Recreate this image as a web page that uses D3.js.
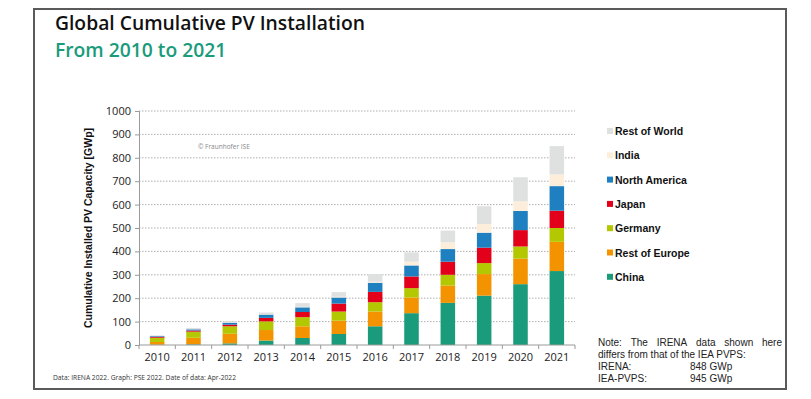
<!DOCTYPE html>
<html>
<head>
<meta charset="utf-8">
<script src="https://cdn.jsdelivr.net/npm/d3@7"></script>
<style>
  body { margin: 0; background: #fff; }
</style>
</head>
<body>
<svg id="chart" width="811" height="399" font-family="'Open Sans', sans-serif"></svg>
<script>
// years along the x axis
const years = ["2010", "2011", "2012", "2013", "2014", "2015", "2016", "2017", "2018", "2019", "2020", "2021"];

// installed capacity per region, GWp (segment heights, bottom to top)
const china = [1, 3, 7, 19, 30, 47, 80, 136, 180, 211, 260, 316];
const restOfEurope = [12, 28, 41, 45, 50, 57, 63, 67, 74, 92, 109, 125];
const germany = [18, 26, 32, 37, 39, 39, 40, 40, 46, 47, 52, 59];
const japan = [4, 5, 7, 15, 22, 34, 44, 50, 56, 66, 70, 74];
const northAmerica = [3, 5, 8, 14, 20, 26, 39, 47, 54, 64, 82, 105];
const india = [0, 1, 1, 2, 2, 3, 4, 16, 29, 37, 41, 50];
const restOfWorld = [3, 5, 5, 7, 16, 20, 33, 40, 50, 76, 103, 121];

const seriesNames = ["China", "Rest of Europe", "Germany", "Japan", "North America", "India", "Rest of World"];
const seriesColors = ["#1a9b7b", "#f39300", "#b3c800", "#e3001b", "#1f80c1", "#fdeedb", "#dfe0e0"];
const yTicks = [0, 100, 200, 300, 400, 500, 600, 700, 800, 900, 1000];

const svg = d3.select("#chart");
const arial = "'Liberation Sans', Arial, sans-serif";

// outer frame
svg.append("rect")
  .attr("x", 34).attr("y", 9)
  .attr("width", 752).attr("height", 380)
  .attr("fill", "none")
  .attr("stroke", "#5a5a5a")
  .attr("stroke-width", 2);

// titles
svg.append("text")
  .attr("x", 55).attr("y", 29.5)
  .attr("font-size", "19.3px")
  .attr("font-weight", 600)
  .attr("fill", "#111")
  .text("Global Cumulative PV Installation");

svg.append("text")
  .attr("x", 55).attr("y", 57)
  .attr("font-size", "19.3px")
  .attr("font-weight", 600)
  .attr("fill", "#1a9b7b")
  .text("From 2010 to 2021");

// build table for stacking
const table = years.map((yr, i) => ({
  year: yr,
  "China": china[i],
  "Rest of Europe": restOfEurope[i],
  "Germany": germany[i],
  "Japan": japan[i],
  "North America": northAmerica[i],
  "India": india[i],
  "Rest of World": restOfWorld[i]
}));

const stacked = d3.stack().keys(seriesNames)(table);

const plotLeft = 139, plotRight = 575, plotTop = 111, plotBottom = 345;

const x = d3.scaleBand().domain(years).range([plotLeft, plotRight]).paddingInner(0.6).paddingOuter(0.3);
const xEdge = d3.scaleLinear().domain([0, years.length]).range([plotLeft, plotRight]); // category boundaries
const y = d3.scaleLinear().domain([0, 1000]).range([plotBottom, plotTop]);

// dotted grid lines
svg.append("g")
  .selectAll("line")
  .data(yTicks.filter(d => d > 0))
  .join("line")
  .attr("x1", plotLeft).attr("x2", plotRight)
  .attr("y1", d => y(d)).attr("y2", d => y(d))
  .attr("stroke", "#9a9a9a")
  .attr("stroke-width", 0.8)
  .attr("stroke-dasharray", "1.5,1.5");

// y axis
const yAxis = svg.append("g")
  .attr("transform", "translate(" + plotLeft + ",0)")
  .call(d3.axisLeft(y).tickValues(yTicks).tickFormat(d3.format("d")).tickSize(4).tickPadding(4));
yAxis.select(".domain").attr("stroke", "#9a9a9a");
yAxis.selectAll(".tick line").attr("stroke", "#9a9a9a");
yAxis.selectAll(".tick text")
  .attr("font-family", "'Open Sans', sans-serif")
  .attr("font-size", "11px")
  .attr("fill", "#222");

// bars
svg.append("g")
  .selectAll("g")
  .data(stacked)
  .join("g")
  .attr("fill", (d, i) => seriesColors[i])
  .selectAll("rect")
  .data(d => d)
  .join("rect")
  .attr("x", d => x(d.data.year))
  .attr("width", x.bandwidth())
  .attr("y", d => y(d[1]))
  .attr("height", d => y(d[0]) - y(d[1]));

// x axis line and boundary ticks
svg.append("line")
  .attr("x1", plotLeft).attr("x2", plotRight)
  .attr("y1", plotBottom).attr("y2", plotBottom)
  .attr("stroke", "#9a9a9a");

svg.append("g")
  .selectAll("line")
  .data(d3.range(years.length + 1))
  .join("line")
  .attr("x1", d => xEdge(d)).attr("x2", d => xEdge(d))
  .attr("y1", plotBottom).attr("y2", plotBottom + 4)
  .attr("stroke", "#9a9a9a");

svg.append("g")
  .selectAll("text")
  .data(years)
  .join("text")
  .attr("x", d => x(d) + x.bandwidth() / 2)
  .attr("y", 361)
  .attr("text-anchor", "middle")
  .attr("font-size", "11px")
  .attr("fill", "#222")
  .text(d => d);

// y axis title
svg.append("text")
  .attr("transform", "translate(92," + (plotTop + plotBottom) / 2 + ") rotate(-90)")
  .attr("text-anchor", "middle")
  .attr("font-family", arial)
  .attr("font-size", "10.5px")
  .attr("font-weight", "bold")
  .attr("fill", "#111")
  .text("Cumulative Installed PV Capacity [GWp]");

// watermark
svg.append("text")
  .attr("x", 198).attr("y", 149)
  .attr("font-size", "6.5px")
  .attr("fill", "#888")
  .text("© Fraunhofer ISE");

// legend (top to bottom: reverse of stack order)
const legend = svg.append("g")
  .selectAll("g")
  .data(seriesNames.slice().reverse())
  .join("g")
  .attr("transform", (d, i) => "translate(607," + (131 + i * 24.3) + ")");

legend.append("rect")
  .attr("x", 0).attr("y", -3)
  .attr("width", 6).attr("height", 6)
  .attr("fill", d => seriesColors[seriesNames.indexOf(d)]);

legend.append("text")
  .attr("x", 8).attr("y", 4)
  .attr("font-family", arial)
  .attr("font-size", "10.5px")
  .attr("font-weight", "bold")
  .attr("fill", "#111")
  .text(d => d);

// note, first line justified word by word
const note = svg.append("g")
  .attr("font-family", arial)
  .attr("font-size", "10px")
  .attr("fill", "#222");
const noteWords = ["Note:", "The", "IRENA", "data", "shown", "here"];
const wordTexts = note.selectAll("text.w")
  .data(noteWords)
  .join("text")
  .attr("class", "w")
  .attr("y", 346)
  .text(d => d);
const widths = wordTexts.nodes().map(n => n.getComputedTextLength());
const gap = (782 - 598 - d3.sum(widths)) / (noteWords.length - 1);
let cx = 598;
wordTexts.attr("x", (d, i) => { const v = cx; cx += widths[i] + gap; return v; });

note.append("text").attr("x", 598).attr("y", 358)
  .text("differs from that of the IEA PVPS:");
note.append("text").attr("x", 598).attr("y", 370).text("IRENA:");
note.append("text").attr("x", 690).attr("y", 370).text("848 GWp");
note.append("text").attr("x", 598).attr("y", 382).text("IEA-PVPS:");
note.append("text").attr("x", 690).attr("y", 382).text("945 GWp");

// source
svg.append("text")
  .attr("x", 53).attr("y", 380)
  .attr("font-size", "6.7px")
  .attr("fill", "#333")
  .text("Data: IRENA 2022. Graph: PSE 2022. Date of data: Apr-2022");
</script>
</body>
</html>
